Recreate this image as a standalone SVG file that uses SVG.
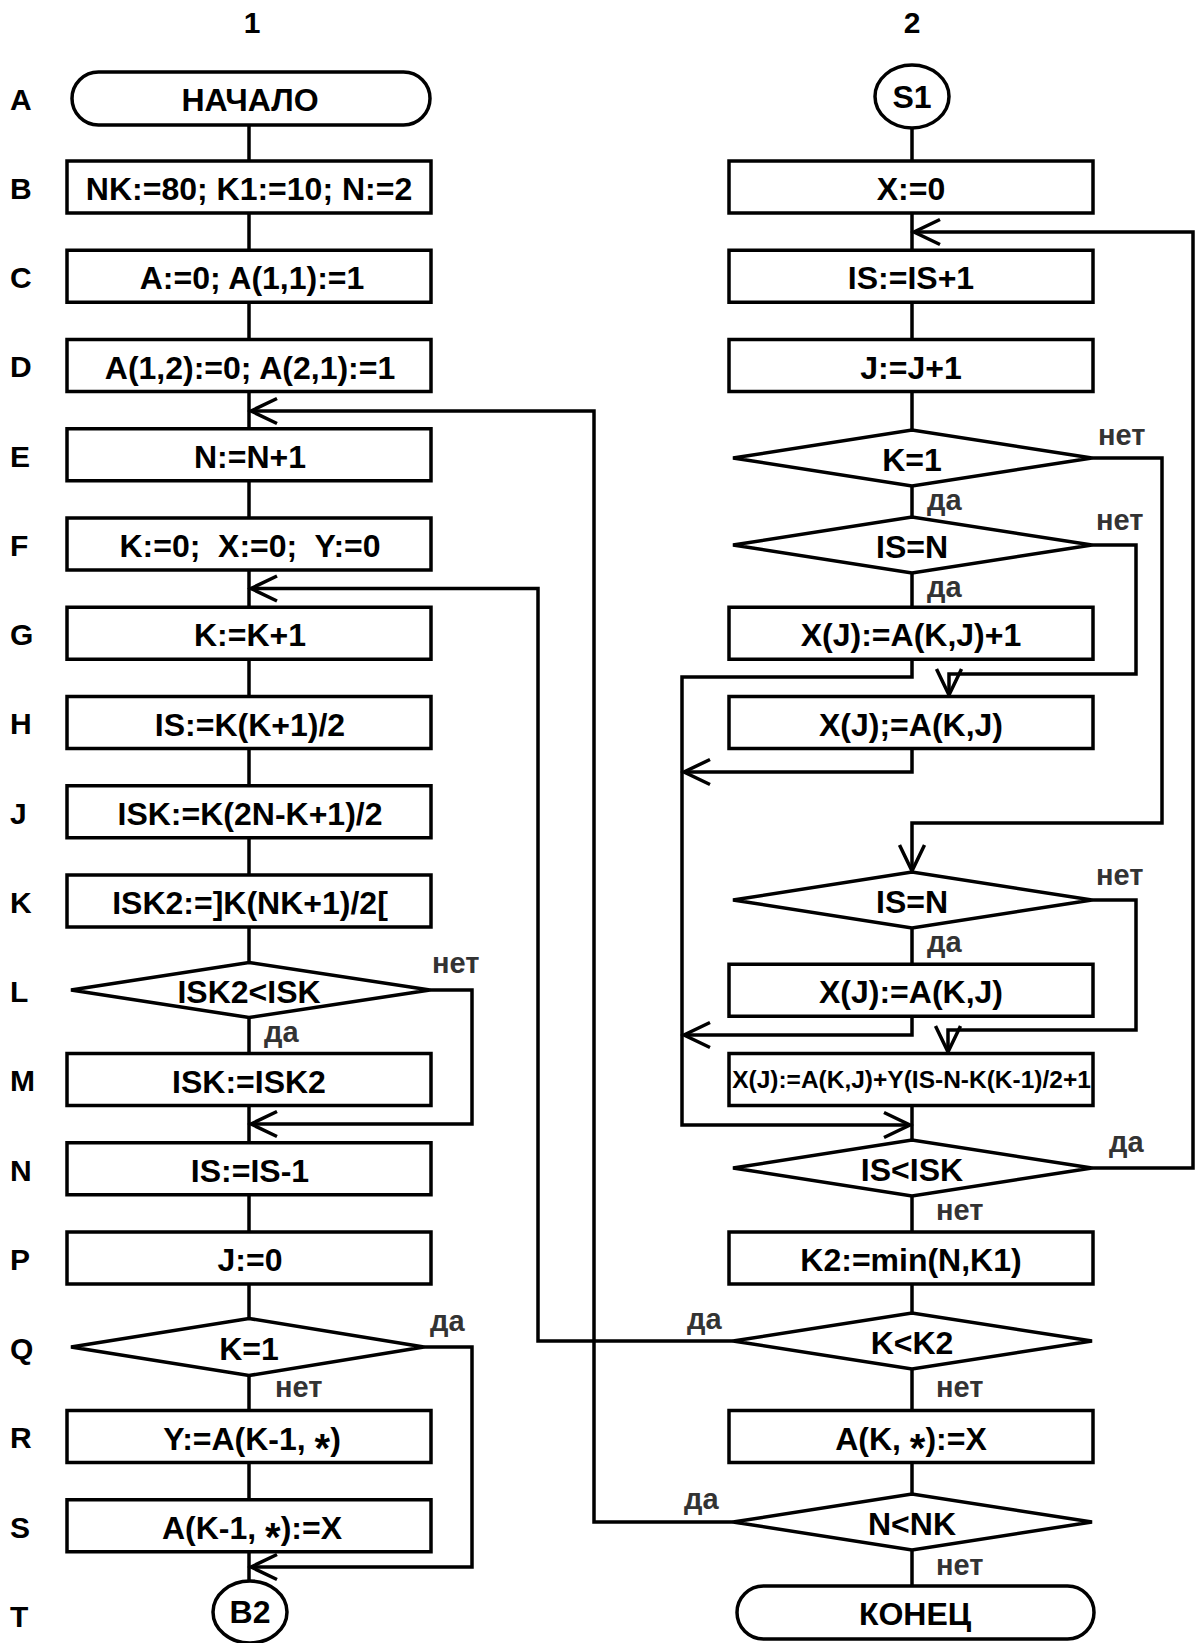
<svg xmlns="http://www.w3.org/2000/svg" width="1196" height="1643" viewBox="0 0 1196 1643">
<style>
.box{fill:#fff;stroke:#000;stroke-width:3.5}
.ln{fill:none;stroke:#000;stroke-width:3.5}
.t{font-family:"Liberation Sans",Arial,sans-serif;font-weight:bold;font-size:32px;text-anchor:middle;fill:#000}
.ts{font-family:"Liberation Sans",Arial,sans-serif;font-weight:bold;font-size:24.5px;text-anchor:middle;fill:#000}
.row{font-family:"Liberation Sans",Arial,sans-serif;font-weight:bold;font-size:30px;fill:#000}
.lab{font-family:"Liberation Sans",Arial,sans-serif;font-weight:bold;font-size:29px;fill:#333}
.st{font-size:40px}
</style>
<defs>
<marker id="ah" markerUnits="userSpaceOnUse" viewBox="-30 -16 32 32" refX="0" refY="0" markerWidth="32" markerHeight="32" orient="auto" overflow="visible">
<path d="M-26,-12.5 L0,0 L-26,12.5" fill="none" stroke="#000" stroke-width="3.5"/>
</marker>
</defs>
<rect width="1196" height="1643" fill="#fff"/>

<g id="headers">
<text class="row" x="252" y="33" text-anchor="middle">1</text>
<text class="row" x="912" y="33" text-anchor="middle">2</text>
</g>
<g id="row-letters">
<text class="row" x="10" y="110">A</text>
<text class="row" x="10" y="199">B</text>
<text class="row" x="10" y="288">C</text>
<text class="row" x="10" y="377">D</text>
<text class="row" x="10" y="467">E</text>
<text class="row" x="10" y="556">F</text>
<text class="row" x="10" y="645">G</text>
<text class="row" x="10" y="734">H</text>
<text class="row" x="10" y="824">J</text>
<text class="row" x="10" y="913">K</text>
<text class="row" x="10" y="1002">L</text>
<text class="row" x="10" y="1091">M</text>
<text class="row" x="10" y="1181">N</text>
<text class="row" x="10" y="1270">P</text>
<text class="row" x="10" y="1359">Q</text>
<text class="row" x="10" y="1448">R</text>
<text class="row" x="10" y="1538">S</text>
<text class="row" x="10" y="1627">T</text>
</g>

<g id="connectors">
<path class="ln" d="M249,125 V1581"/>
<path class="ln" d="M430,990 H472 V1124 H251" marker-end="url(#ah)"/>
<path class="ln" d="M424,1347 H472 V1567 H251" marker-end="url(#ah)"/>
<path class="ln" d="M733,1341 H538 V588.5 H251" marker-end="url(#ah)"/>
<path class="ln" d="M733,1522 H594 V411 H251" marker-end="url(#ah)"/>
<path class="ln" d="M912,128 V677 H682 V1125 H910" marker-end="url(#ah)"/>
<path class="ln" d="M912,749 V772 H684" marker-end="url(#ah)"/>
<path class="ln" d="M1092,458 H1162 V823 H912 V871" marker-end="url(#ah)"/>
<path class="ln" d="M1092,545 H1136 V674 H949 V695" marker-end="url(#ah)"/>
<path class="ln" d="M912,928 V1035 H684" marker-end="url(#ah)"/>
<path class="ln" d="M1092,900 H1136 V1030 H948 V1052" marker-end="url(#ah)"/>
<path class="ln" d="M912,1105 V1586"/>
<path class="ln" d="M1092,1168 H1193 V232 H914" marker-end="url(#ah)"/>
<g id="edge-labels">
<text class="lab" x="432" y="973">нет</text>
<text class="lab" x="264" y="1042">да</text>
<text class="lab" x="430" y="1331">да</text>
<text class="lab" x="275" y="1397">нет</text>
<text class="lab" x="1098" y="445">нет</text>
<text class="lab" x="927" y="510">да</text>
<text class="lab" x="1096" y="530">нет</text>
<text class="lab" x="927" y="597">да</text>
<text class="lab" x="1096" y="885">нет</text>
<text class="lab" x="927" y="952">да</text>
<text class="lab" x="1109" y="1152">да</text>
<text class="lab" x="936" y="1220">нет</text>
<text class="lab" x="687" y="1329">да</text>
<text class="lab" x="936" y="1397">нет</text>
<text class="lab" x="684" y="1509">да</text>
<text class="lab" x="936" y="1575">нет</text>
</g>
</g>

<g id="L-A"><rect class="box" x="72" y="72" width="358" height="53" rx="26.5"/><text class="t" x="250" y="111">НАЧАЛО</text></g>
<g id="L-B"><rect class="box" x="67" y="161" width="364" height="52"/><text class="t" x="249" y="200">NK:=80; K1:=10; N:=2</text></g>
<g id="L-C"><rect class="box" x="67" y="250.25" width="364" height="52"/><text class="t" x="252" y="289">A:=0; A(1,1):=1</text></g>
<g id="L-D"><rect class="box" x="67" y="339.5" width="364" height="52"/><text class="t" x="250" y="378.5">A(1,2):=0; A(2,1):=1</text></g>
<g id="L-E"><rect class="box" x="67" y="428.75" width="364" height="52"/><text class="t" x="250" y="467.5">N:=N+1</text></g>
<g id="L-F"><rect class="box" x="67" y="518" width="364" height="52"/><text class="t" x="250" y="557" xml:space="preserve">K:=0;  X:=0;  Y:=0</text></g>
<g id="L-G"><rect class="box" x="67" y="607.25" width="364" height="52"/><text class="t" x="250" y="646">K:=K+1</text></g>
<g id="L-H"><rect class="box" x="67" y="696.5" width="364" height="52"/><text class="t" x="250" y="735.5">IS:=K(K+1)/2</text></g>
<g id="L-J"><rect class="box" x="67" y="785.75" width="364" height="52"/><text class="t" x="250" y="824.5">ISK:=K(2N-K+1)/2</text></g>
<g id="L-K"><rect class="box" x="67" y="875" width="364" height="52"/><text class="t" x="250" y="914">ISK2:=]K(NK+1)/2[</text></g>
<g id="L-L"><polygon class="box" points="71,990 249,962.5 430,990 249,1017.5"/><text class="t" x="249" y="1003">ISK2&lt;ISK</text></g>
<g id="L-M"><rect class="box" x="67" y="1053.5" width="364" height="52"/><text class="t" x="249" y="1092.5">ISK:=ISK2</text></g>
<g id="L-N"><rect class="box" x="67" y="1142.75" width="364" height="52"/><text class="t" x="250" y="1181.5">IS:=IS-1</text></g>
<g id="L-P"><rect class="box" x="67" y="1232" width="364" height="52"/><text class="t" x="250" y="1271">J:=0</text></g>
<g id="L-Q"><polygon class="box" points="71,1347 249,1318.5 424,1347 249,1375.5"/><text class="t" x="249" y="1360">K=1</text></g>
<g id="L-R"><rect class="box" x="67" y="1410.5" width="364" height="52"/><text class="t" x="252" y="1449.5">Y:=A(K-1, <tspan class="st" baseline-shift="-12">*</tspan>)</text></g>
<g id="L-S"><rect class="box" x="67" y="1499.75" width="364" height="52"/><text class="t" x="252" y="1538.5">A(K-1, <tspan class="st" baseline-shift="-12">*</tspan>):=X</text></g>
<g id="L-T"><ellipse class="box" cx="250" cy="1612" rx="37" ry="31"/><text class="t" x="250" y="1623">B2</text></g>

<g id="R-S1"><ellipse class="box" cx="912" cy="96.5" rx="37" ry="31.5"/><text class="t" x="912" y="108">S1</text></g>
<g id="R-B"><rect class="box" x="729" y="161" width="364" height="52"/><text class="t" x="911" y="200">X:=0</text></g>
<g id="R-C"><rect class="box" x="729" y="250.25" width="364" height="52"/><text class="t" x="911" y="289">IS:=IS+1</text></g>
<g id="R-D"><rect class="box" x="729" y="339.5" width="364" height="52"/><text class="t" x="911" y="378.5">J:=J+1</text></g>
<g id="R-E"><polygon class="box" points="733,458 912,430 1092,458 912,486"/><text class="t" x="912" y="471">K=1</text></g>
<g id="R-F"><polygon class="box" points="733,545 912,517 1092,545 912,573"/><text class="t" x="912" y="558">IS=N</text></g>
<g id="R-G"><rect class="box" x="729" y="607.25" width="364" height="52"/><text class="t" x="911" y="646">X(J):=A(K,J)+1</text></g>
<g id="R-H"><rect class="box" x="729" y="696.5" width="364" height="52"/><text class="t" x="911" y="735.5">X(J);=A(K,J)</text></g>
<g id="R-K"><polygon class="box" points="733,900 912,872 1092,900 912,928"/><text class="t" x="912" y="913">IS=N</text></g>
<g id="R-L"><rect class="box" x="729" y="964.25" width="364" height="52"/><text class="t" x="911" y="1003">X(J):=A(K,J)</text></g>
<g id="R-M"><rect class="box" x="729" y="1053.5" width="364" height="52"/><text class="ts" x="911.5" y="1088">X(J):=A(K,J)+Y(IS-N-K(K-1)/2+1</text></g>
<g id="R-N"><polygon class="box" points="733,1168 912,1140 1092,1168 912,1196"/><text class="t" x="912" y="1181">IS&lt;ISK</text></g>
<g id="R-P"><rect class="box" x="729" y="1232" width="364" height="52"/><text class="t" x="911" y="1271">K2:=min(N,K1)</text></g>
<g id="R-Q"><polygon class="box" points="733,1341 912,1313 1092,1341 912,1369"/><text class="t" x="912" y="1354">K&lt;K2</text></g>
<g id="R-R"><rect class="box" x="729" y="1410.5" width="364" height="52"/><text class="t" x="911" y="1449.5">A(K, <tspan class="st" baseline-shift="-12">*</tspan>):=X</text></g>
<g id="R-S"><polygon class="box" points="733,1522 912,1494 1092,1522 912,1550"/><text class="t" x="912" y="1535">N&lt;NK</text></g>
<g id="R-T"><rect class="box" x="737" y="1586" width="357" height="53" rx="26.5"/><text class="t" x="915" y="1625">КОНЕЦ</text></g>
</svg>
